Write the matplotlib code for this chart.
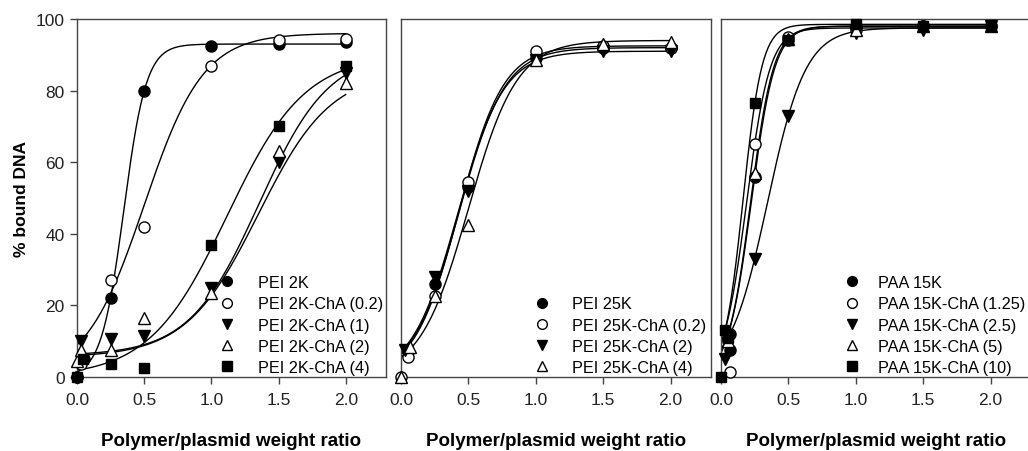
import numpy as np
import matplotlib
matplotlib.use("Agg")
import matplotlib.pyplot as plt
from matplotlib.lines import Line2D

plt.rcParams['font.family'] = ['Liberation Sans', 'DejaVu Sans']

# ---------------- data: panel 1 (PEI 2K) ----------------
p1_labels = ["PEI 2K", "PEI 2K-ChA (0.2)", "PEI 2K-ChA (1)", "PEI 2K-ChA (2)", "PEI 2K-ChA (4)"]
p1_x = [
    [0, 0.05, 0.25, 0.5, 1.0, 1.5, 2.0],
    [0, 0.03, 0.25, 0.5, 1.0, 1.5, 2.0],
    [0.03, 0.25, 0.5, 1.0, 1.5, 2.0],
    [0, 0.03, 0.25, 0.5, 1.0, 1.5, 2.0],
    [0, 0.045, 0.25, 0.5, 1.0, 1.5, 2.0],
]
p1_y = [
    [0, 5, 22, 80, 92.5, 93, 93.5],
    [0, 3.5, 27, 42, 87, 94, 94.5],
    [10, 10.5, 11.5, 25, 60, 85],
    [4.5, 7.5, 7.5, 16.5, 23.5, 63, 82],
    [0, 5, 3.5, 2.5, 37, 70, 87],
]
# fitted sigmoid curves: [y0, amplitude, x0, slope]
p1_fit = [
    [0, 93, 0.348, 0.084],
    [0, 96, 0.50, 0.22],
    [6, 85, 1.356, 0.26],
    [5.5, 80, 1.35, 0.27],
    [0, 90, 1.117, 0.29],
]

# ---------------- data: panel 2 (PEI 25K) ----------------
p2_labels = ["PEI 25K", "PEI 25K-ChA (0.2)", "PEI 25K-ChA (2)", "PEI 25K-ChA (4)"]
p2_x = [
    [0.05, 0.25, 0.5, 1.0, 1.5, 2.0],
    [0, 0.05, 0.25, 0.5, 1.0, 1.5, 2.0],
    [0.03, 0.25, 0.5, 1.0, 1.5, 2.0],
    [0, 0.07, 0.25, 0.5, 1.0, 1.5, 2.0],
]
p2_y = [
    [7, 26, 53, 89, 92, 92],
    [0, 5.5, 22.5, 54.5, 91, 92.5, 92],
    [7.5, 28, 52, 88.5, 91, 91],
    [0, 8.5, 22.5, 42.5, 88.5, 93, 93.5],
]
p2_fit = [
    [0, 92, 0.43, 0.17],
    [0, 92.5, 0.43, 0.165],
    [0, 91, 0.42, 0.17],
    [0, 94, 0.50, 0.18],
]

# ---------------- data: panel 3 (PAA 15K) ----------------
p3_labels = ["PAA 15K", "PAA 15K-ChA (1.25)", "PAA 15K-ChA (2.5)", "PAA 15K-ChA (5)", "PAA 15K-ChA (10)"]
p3_x = [
    [0.07, 0.07, 0.25, 0.5, 1.0, 1.5, 2.0],
    [0.07, 0.25, 0.5, 1.0, 1.5, 2.0],
    [0.03, 0.25, 0.5, 1.0, 1.5, 2.0],
    [0.05, 0.25, 0.5, 1.0, 1.5, 2.0],
    [0, 0.03, 0.05, 0.25, 0.5, 1.0, 1.5, 2.0],
]
p3_y = [
    [7.5, 12, 56, 94, 98, 98, 98],
    [1.5, 65, 95, 97, 98, 98],
    [5, 33, 73, 96, 97, 98],
    [10, 57, 94.5, 97, 98, 98],
    [0, 13, 11, 76.5, 94, 98.5, 98, 98],
]
p3_fit = [
    [0, 98, 0.225, 0.087],
    [0, 97.5, 0.19, 0.086],
    [0, 97.5, 0.345, 0.142],
    [0, 98, 0.22, 0.085],
    [0, 98.5, 0.163, 0.0705],
]

xticks = [0.0, 0.5, 1.0, 1.5, 2.0]
yticks = [0, 20, 40, 60, 80, 100]
xlabel = "Polymer/plasmid weight ratio"
ylabel = "% bound DNA"

# marker styles: (marker, filled)
styles = [("o", True), ("o", False), ("v", True), ("^", False), ("s", True)]

spine_col = "#444444"
tick_col = "#222222"

fig = plt.figure(figsize=(10.28, 4.52), dpi=100)
H = 452.0
W = 1028.0
bottom = (H - 378) / H
height = 358 / H
lefts = [77, 401, 721]
widths = [309, 310, 310]

panels = [
    (p1_labels, p1_x, p1_y, p1_fit, [0, 1, 2, 3, 4]),
    (p2_labels, p2_x, p2_y, p2_fit, [0, 1, 2, 3]),
    (p3_labels, p3_x, p3_y, p3_fit, [0, 1, 2, 3, 4]),
]
leg_anchor = [(0.458, 0.006), (0.428, 0.006), (0.397, 0.006)]
leg_pad = [1.45, 1.35, 1.1]

for i, (labels, xs, ys, fits, sidx) in enumerate(panels):
    ax = fig.add_axes([lefts[i] / W, bottom, widths[i] / W, height])
    xx = np.linspace(0, 2.0, 400)
    for f in fits:
        y0, a, x0, b = f
        ax.plot(xx, y0 + a / (1 + np.exp(-(xx - x0) / b)), color="black", lw=1.0, zorder=2)
    handles = []
    for k, (x, y) in enumerate(zip(xs, ys)):
        m, filled = styles[sidx[k]]
        fc = "black" if filled else "white"
        ax.plot(x, y, linestyle="none", marker=m, ms=8 if m != "s" else 7.5,
                mfc=fc, mec="black", mew=1.0, zorder=3, clip_on=False)
        handles.append(Line2D([], [], linestyle="none", marker=m, ms=7 if m != "s" else 6.5,
                              mfc=fc, mec="black", mew=1.0))
    ax.set_xlim(0, 2.3)
    ax.set_ylim(0, 100)
    ax.set_xticks(xticks)
    ax.set_xticklabels([f"{t:.1f}" for t in xticks], fontsize=12.5, color=tick_col)
    ax.tick_params(axis="x", direction="out", length=5, width=1, color=spine_col, pad=6)
    if i == 0:
        ax.set_yticks(yticks)
        ax.set_yticklabels([str(t) for t in yticks], fontsize=12.5, color=tick_col)
        ax.tick_params(axis="y", direction="out", length=5, width=1, color=spine_col, pad=4)
        ax.set_ylabel(ylabel, fontsize=12.5, fontweight="bold", labelpad=5)
    else:
        ax.set_yticks([])
    ax.set_xlabel(xlabel, fontsize=13.5, fontweight="bold", labelpad=18)
    for s in ax.spines.values():
        s.set_color(spine_col)
        s.set_linewidth(1.0)
    ax.legend(handles, labels, loc="lower left", bbox_to_anchor=leg_anchor[i],
              frameon=False, fontsize=11.7, handlelength=1.0, handletextpad=leg_pad[i],
              labelspacing=0.38, borderpad=0.0, borderaxespad=0.0)

fig.savefig("out.png", dpi=100)
